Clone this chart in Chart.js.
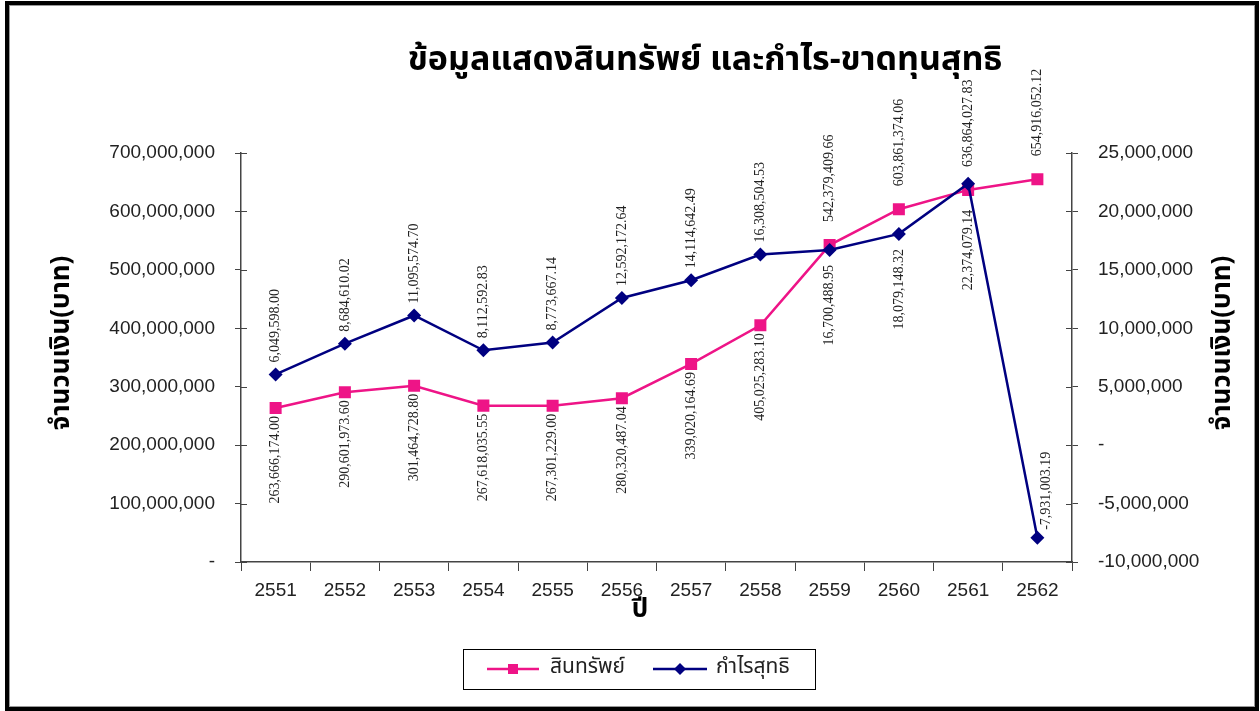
<!DOCTYPE html>
<html>
<head>
<meta charset="utf-8">
<title>ข้อมูลแสดงสินทรัพย์ และกำไร-ขาดทุนสุทธิ</title>
<style>
  html, body { margin: 0; padding: 0; background: #fff; }
  #wrap { width: 1260px; height: 711px; }
</style>
</head>
<body>
<div id="wrap">
    <canvas id="myChart" width="1260" height="711"></canvas>
</div>

<script src="https://cdn.jsdelivr.net/npm/chart.js"></script>
<script>
    // ข้อมูล
    var years = ['2551', '2552', '2553', '2554', '2555', '2556', '2557', '2558', '2559', '2560', '2561', '2562'];
    var assets = [263666174.00, 290601973.60, 301464728.80, 267618035.55, 267301229.00, 280320487.04,
                  339020164.69, 405025283.10, 542379409.66, 603861374.06, 636864027.83, 654916052.12];
    var netProfit = [6049598.00, 8684610.02, 11095574.70, 8112592.83, 8773667.14, 12592172.64,
                     14114642.49, 16308504.53, 16700488.95, 18079148.32, 22374079.14, -7931003.19];

    var titleText = 'ข้อมูลแสดงสินทรัพย์ และกำไร-ขาดทุนสุทธิ';
    var yTitle = 'จำนวนเงิน(บาท)';
    var xTitle = 'ปี';
    var assetsName = 'สินทรัพย์';
    var profitName = 'กำไรสุทธิ';

    // ตำแหน่งป้ายตัวเลข (เหนือ/ใต้จุด)
    var assetsLabelPos = ['below', 'below', 'below', 'below', 'below', 'below', 'below', 'below', 'above', 'above', 'above', 'above'];
    var profitLabelPos = ['above', 'above', 'above', 'above', 'above', 'above', 'above', 'above', 'below', 'below', 'belowFar', 'right'];

    var pink = '#EE1487';
    var navy = '#000080';
    var axisColor = '#444';
    var thaiFont = '"Noto Sans Thai", "Noto Sans", Tahoma, sans-serif';

    function fmt2(v) {
        return v.toLocaleString('en-US', { minimumFractionDigits: 2, maximumFractionDigits: 2 });
    }
    function fmtTick(v) {
        return v === 0 ? '-' : v.toLocaleString('en-US');
    }

    // plugin วาดป้ายตัวเลข หัวเรื่อง คำอธิบาย และกรอบ
    var extras = {
        id: 'extras',
        afterDatasetsDraw: function(chart) {
            var ctx = chart.ctx;
            var area = chart.chartArea;

            // ขีดด้านในของแกน y
            ctx.save();
            ctx.strokeStyle = axisColor;
            ctx.lineWidth = 1;
            chart.scales.y.ticks.forEach(function(t) {
                var py = Math.round(chart.scales.y.getPixelForValue(t.value)) + 0.5;
                ctx.beginPath(); ctx.moveTo(area.left, py); ctx.lineTo(area.left + 6, py); ctx.stroke();
            });
            chart.scales.y1.ticks.forEach(function(t) {
                var py = Math.round(chart.scales.y1.getPixelForValue(t.value)) + 0.5;
                ctx.beginPath(); ctx.moveTo(area.right - 6, py); ctx.lineTo(area.right, py); ctx.stroke();
            });
            ctx.restore();

            // ป้ายตัวเลข (แนวตั้ง)
            var sets = [
                { idx: 0, pos: assetsLabelPos, up: 23, down: 8 },
                { idx: 1, pos: profitLabelPos, up: 12, down: 15 }
            ];
            ctx.save();
            ctx.font = '14px "Liberation Serif", "Times New Roman", serif';
            ctx.fillStyle = '#222';
            ctx.textBaseline = 'middle';
            sets.forEach(function(s) {
                var meta = chart.getDatasetMeta(s.idx);
                var values = chart.data.datasets[s.idx].data;
                meta.data.forEach(function(pt, i) {
                    var text = fmt2(values[i]);
                    var p = s.pos[i];
                    ctx.save();
                    if (p === 'above') {
                        ctx.translate(pt.x, pt.y - s.up);
                        ctx.textAlign = 'left';
                    } else if (p === 'right') {
                        ctx.translate(pt.x + 9, pt.y - 8);
                        ctx.textAlign = 'left';
                    } else if (p === 'belowFar') {
                        ctx.translate(pt.x, pt.y + 26);
                        ctx.textAlign = 'right';
                    } else {
                        ctx.translate(pt.x, pt.y + s.down);
                        ctx.textAlign = 'right';
                    }
                    ctx.rotate(-Math.PI / 2);
                    ctx.fillText(text, 0, 0);
                    ctx.restore();
                });
            });
            ctx.restore();
        },
        afterDraw: function(chart) {
            var ctx = chart.ctx;

            // หัวเรื่อง
            ctx.save();
            ctx.fillStyle = '#000';
            ctx.textAlign = 'center';
            ctx.textBaseline = 'middle';
            ctx.font = 'bold 34px ' + thaiFont;
            ctx.fillText(titleText, 705, 63);

            // ชื่อแกน (ทั้งสองข้างหมุน -90 องศา)
            ctx.font = 'bold 26px ' + thaiFont;
            ctx.save();
            ctx.translate(64, 343);
            ctx.rotate(-Math.PI / 2);
            ctx.fillText(yTitle, 0, 0);
            ctx.restore();

            ctx.save();
            ctx.translate(1225, 343);
            ctx.rotate(-Math.PI / 2);
            ctx.fillText(yTitle, 0, 0);
            ctx.restore();

            ctx.font = 'bold 26px ' + thaiFont;
            ctx.fillText(xTitle, 640, 612);
            ctx.restore();

            // คำอธิบาย
            ctx.save();
            ctx.strokeStyle = '#000';
            ctx.lineWidth = 1;
            ctx.strokeRect(463.5, 649.5, 352, 40);
            var ly = 669;
            ctx.lineWidth = 2.5;
            ctx.strokeStyle = pink;
            ctx.beginPath(); ctx.moveTo(487, ly); ctx.lineTo(539, ly); ctx.stroke();
            ctx.fillStyle = pink;
            ctx.fillRect(508, ly - 5, 10, 10);
            ctx.strokeStyle = navy;
            ctx.beginPath(); ctx.moveTo(653, ly); ctx.lineTo(707, ly); ctx.stroke();
            ctx.fillStyle = navy;
            ctx.beginPath();
            ctx.moveTo(680, ly - 6); ctx.lineTo(686, ly); ctx.lineTo(680, ly + 6); ctx.lineTo(674, ly);
            ctx.closePath(); ctx.fill();
            ctx.fillStyle = '#222';
            ctx.font = '21px ' + thaiFont;
            ctx.textAlign = 'left';
            ctx.textBaseline = 'middle';
            ctx.fillText(assetsName, 550, ly);
            ctx.fillText(profitName, 716, ly);
            ctx.restore();

            // กรอบ
            ctx.save();
            ctx.strokeStyle = '#000';
            ctx.lineWidth = 4;
            ctx.strokeRect(7, 3, 1250, 706);
            ctx.strokeStyle = '#999';
            ctx.lineWidth = 1;
            ctx.strokeRect(9.5, 5.5, 1245, 701);
            ctx.restore();
        }
    };

    var ctx = document.getElementById('myChart').getContext('2d');
    var chart = new Chart(ctx, {
        type: 'line',
        data: {
            labels: years,
            datasets: [{
                label: assetsName,
                data: assets,
                yAxisID: 'y',
                borderColor: pink,
                backgroundColor: pink,
                borderWidth: 2.5,
                pointStyle: 'rect',
                pointRadius: 8.5,
                pointHoverRadius: 8.5,
                pointBorderWidth: 0,
                tension: 0,
                order: 1
            }, {
                label: profitName,
                data: netProfit,
                yAxisID: 'y1',
                borderColor: navy,
                backgroundColor: navy,
                borderWidth: 2.5,
                pointStyle: 'rectRot',
                pointRadius: 7,
                pointHoverRadius: 7,
                pointBorderWidth: 0,
                tension: 0,
                order: 0
            }]
        },
        options: {
            responsive: false,
            animation: false,
            layout: { padding: { top: 153, left: 0, right: 0, bottom: 0 } },
            plugins: {
                legend: { display: false },
                title: { display: false },
                tooltip: { enabled: false }
            },
            scales: {
                x: {
                    offset: true,
                    grid: { offset: true, drawOnChartArea: false, tickLength: 9, color: axisColor },
                    border: { color: axisColor, width: 1.5 },
                    ticks: { color: '#222', padding: 8, maxRotation: 0, font: { family: '"Liberation Sans", Arial, sans-serif', size: 19 } },
                    afterFit: function(scale) { scale.height = 149; }
                },
                y: {
                    position: 'left',
                    min: 0,
                    max: 700000000,
                    ticks: { stepSize: 100000000, color: '#222', padding: 20, callback: fmtTick, font: { family: '"Liberation Sans", Arial, sans-serif', size: 19 } },
                    grid: { drawOnChartArea: false, tickLength: 6, color: axisColor },
                    border: { color: axisColor, width: 1.5 },
                    afterFit: function(scale) { scale.width = 241; }
                },
                y1: {
                    position: 'right',
                    min: -10000000,
                    max: 25000000,
                    ticks: { stepSize: 5000000, color: '#222', padding: 20, callback: fmtTick, font: { family: '"Liberation Sans", Arial, sans-serif', size: 19 } },
                    grid: { drawOnChartArea: false, tickLength: 6, color: axisColor },
                    border: { color: axisColor, width: 1.5 },
                    afterFit: function(scale) { scale.width = 188; }
                }
            }
        },
        plugins: [extras]
    });
</script>
</body>
</html>
